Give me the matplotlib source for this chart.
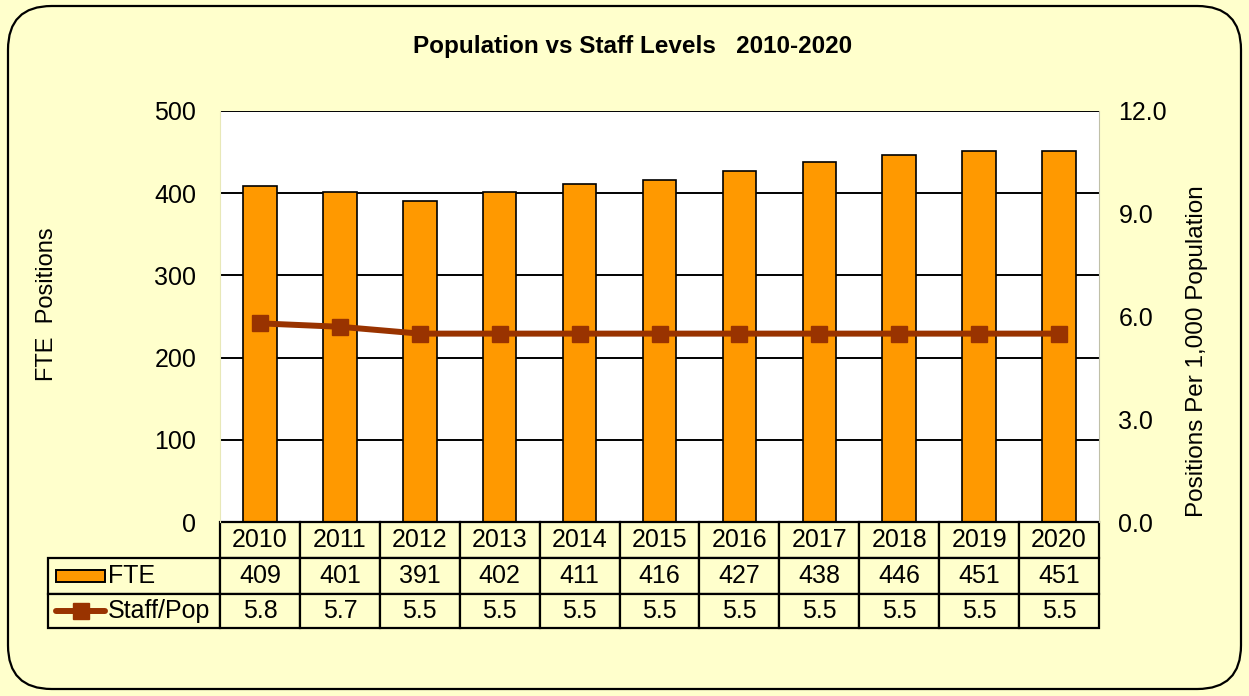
import matplotlib.pyplot as plt
from matplotlib.patches import FancyBboxPatch, Rectangle
from matplotlib.lines import Line2D

years = ["2010", "2011", "2012", "2013", "2014", "2015",
         "2016", "2017", "2018", "2019", "2020"]
fte = [409, 401, 391, 402, 411, 416, 427, 438, 446, 451, 451]
staff_pop = [5.8, 5.7, 5.5, 5.5, 5.5, 5.5, 5.5, 5.5, 5.5, 5.5, 5.5]

BG = "#FFFFCC"
BAR = "#FF9900"
LINE = "#993300"
plt.rcParams["font.family"] = ["Liberation Sans", "DejaVu Sans"]

fig = plt.figure(figsize=(12.49, 6.96), dpi=100)
fig.patch.set_facecolor(BG)

# rounded frame around the whole chart
frame = FancyBboxPatch((8 / 1249, 7 / 696), 1233 / 1249, 683 / 696,
                       boxstyle="round,pad=0,rounding_size=0.035",
                       transform=fig.transFigure, facecolor="none",
                       edgecolor="black", linewidth=1.6,
                       mutation_aspect=1249 / 696)
fig.patches.append(frame)

ax = fig.add_axes([220 / 1249, 1 - 522 / 696, 879 / 1249, 411 / 696])
ax.set_facecolor("white")
x = list(range(len(years)))

ax.bar(x, fte, width=0.42, color=BAR, edgecolor="black", linewidth=1.2, zorder=3)
ax.set_xlim(-0.5, len(years) - 0.5)
ax.set_ylim(0, 500)
ax.set_yticks([0, 100, 200, 300, 400, 500])
ax.set_xticks([])
for v in [100, 200, 300, 400, 500]:
    ax.axhline(v, color="black", linewidth=1.4, zorder=1)
ax.tick_params(axis="y", length=0, pad=17, labelsize=18)
for s in ax.spines.values():
    s.set_visible(False)
ax.set_ylabel("FTE  Positions", fontsize=17, va="center")
ax.yaxis.set_label_coords((47 - 220) / 879, 0.53)

ax2 = ax.twinx()
ax2.plot(x, staff_pop, color=LINE, linewidth=4.3, marker="s",
         markersize=11.5, zorder=4)
ax2.set_ylim(0, 12)
ax2.set_yticks([0, 3, 6, 9, 12])
ax2.set_yticklabels([f"{v:.1f}" for v in [0, 3, 6, 9, 12]])
ax2.tick_params(axis="y", length=0, pad=14, labelsize=18)
for s in ax2.spines.values():
    s.set_visible(False)
ax2.spines["right"].set_visible(True)
ax2.spines["right"].set_color("#C0C0A8")
ax2.spines["left"].set_visible(True)
ax2.spines["left"].set_color("#E8E8B8")
ax2.set_ylabel("Positions Per 1,000 Population", fontsize=17.5, va="center")
ax2.yaxis.set_label_coords((1197 - 220) / 879, 0.416)

fig.text(633 / 1249, 1 - 46 / 696, "Population vs Staff Levels   2010-2020",
         ha="center", va="center", fontsize=17.5, fontweight="bold")

# data table under the plot
tr = ax.transAxes
h = 411
rows = [(0, -36 / h), (-36 / h, -72 / h), (-72 / h, -106 / h)]
label_left = (48 - 220) / 879
colw = 1 / len(years)
fs = 18


def cell(x0, x1, y0, y1):
    ax.add_patch(Rectangle((x0, y1), x1 - x0, y0 - y1, transform=tr,
                           facecolor=BG, edgecolor="black", linewidth=1.6,
                           clip_on=False, zorder=5))


for r, (y0, y1) in enumerate(rows):
    if r > 0:
        cell(label_left, 0, y0, y1)
    for i in range(len(years)):
        cell(i * colw, (i + 1) * colw, y0, y1)

row_text = [years, [str(v) for v in fte], [f"{v:.1f}" for v in staff_pop]]
for r, (y0, y1) in enumerate(rows):
    yc = (y0 + y1) / 2
    for i, t in enumerate(row_text[r]):
        ax.text((i + 0.5) * colw, yc, t, transform=tr, ha="center",
                va="center", fontsize=fs, zorder=6)

# legend keys in the row label column
lx0 = (56 - 220) / 879
lx1 = (105 - 220) / 879
y_fte = (rows[1][0] + rows[1][1]) / 2
y_sp = (rows[2][0] + rows[2][1]) / 2
ax.add_patch(Rectangle((lx0, y_fte - 6 / h), lx1 - lx0, 12 / h, transform=tr,
                       facecolor=BAR, edgecolor="black", linewidth=1.4,
                       clip_on=False, zorder=6))
ax.add_line(Line2D([lx0, lx1], [y_sp, y_sp], transform=tr, color=LINE,
                   linewidth=4.3, solid_capstyle="round", clip_on=False,
                   zorder=6))
ax.add_line(Line2D([(lx0 + lx1) / 2], [y_sp], transform=tr, color=LINE,
                   marker="s", markersize=11.5, linestyle="none",
                   clip_on=False, zorder=7))
ax.text((108 - 220) / 879, y_fte, "FTE", transform=tr, ha="left",
        va="center", fontsize=fs, zorder=6)
ax.text((108 - 220) / 879, y_sp, "Staff/Pop", transform=tr, ha="left",
        va="center", fontsize=fs, zorder=6)

fig.savefig("out.png", dpi=100, facecolor=BG)
